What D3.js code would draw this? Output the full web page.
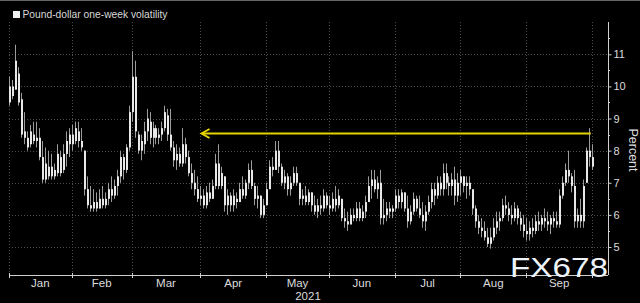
<!DOCTYPE html>
<html>
<head>
<meta charset="utf-8">
<script src="https://cdnjs.cloudflare.com/ajax/libs/d3/7.8.5/d3.min.js"></script>
<style>
  html, body { margin: 0; padding: 0; background: #000; }
  svg { display: block; }
  text { font-family: "Liberation Sans", Arial, sans-serif; }
</style>
</head>
<body>
<div id="chart"></div>
<script>
var svgWidth = 640;
var svgHeight = 303;

var plot = { left: 9, right: 608, top: 22, bottom: 275 };

// trading-day index where each month starts (Jan 1 = 0)
var months = ["Jan", "Feb", "Mar", "Apr", "May", "Jun", "Jul", "Aug", "Sep"];
var monthStarts = [0, 21, 41, 64, 86, 107, 129, 151, 173, 195];
var yTicks = [5, 6, 7, 8, 9, 10, 11];
var yMinorTicks = [5.5, 6.5, 7.5, 8.5, 9.5, 10.5, 11.5];

// one bar per trading day
var highs = [
  10.3, 10.2, 11.3, 10.6, 9.8, 9.2, 8.6, 8.8, 8.9, 8.9, 8.7, 8.3, 8.1, 8.0, 7.9, 7.6, 8.2, 8.0, 8.2, 8.6, 8.7,
  8.8, 8.9, 8.9, 8.7, 8.0, 7.2, 6.9, 6.8, 6.7, 6.8, 6.9, 6.7, 7.0, 7.2, 7.1, 7.4, 8.0, 7.9, 8.2, 9.4,
  11.1, 10.8, 8.6, 8.5, 8.9, 9.3, 9.2, 8.9, 8.8, 8.7, 8.9, 9.4, 9.3, 9.3, 8.3, 8.2, 8.1, 8.7, 8.4, 8.0, 7.6, 7.4, 7.2,
  6.9, 6.8, 6.9, 7.0, 7.1, 7.9, 8.2, 7.5, 7.2, 6.8, 6.7, 6.8, 6.7, 7.0, 7.2, 7.1, 7.6, 7.7, 7.0, 6.9, 6.6, 6.5,
  7.0, 7.7, 7.8, 8.3, 8.3, 7.6, 7.4, 7.3, 7.2, 7.5, 7.5, 6.9, 6.8, 6.9, 6.8, 6.7, 6.6, 6.5, 6.6, 6.8, 6.7,
  6.6, 6.7, 6.9, 6.8, 6.5, 6.2, 6.1, 6.2, 6.2, 6.4, 6.4, 6.3, 6.6, 7.2, 7.4, 7.4, 7.2, 7.4, 6.5, 6.4, 6.4, 6.3,
  6.8, 6.8, 6.8, 6.7, 6.6, 6.3, 6.7, 6.6, 6.6, 6.4, 6.3, 6.6, 7.0, 7.0, 7.2, 7.2, 7.6, 7.6, 7.2, 7.3, 7.5, 7.3,
  7.4, 7.2, 7.2, 7.2, 6.7, 6.3, 6.0, 5.9, 5.8, 5.6, 5.6, 5.9, 6.1, 6.1, 6.5, 6.6, 6.4, 6.3, 6.4, 6.3, 6.1, 6.0,
  5.9, 5.8, 5.9, 6.0, 6.1, 6.0, 6.2, 6.1, 6.0, 6.1, 6.1, 6.8, 7.2, 7.6, 8.0, 7.3, 7.4, 6.2, 6.5, 7.1, 8.1, 8.7, 8.2
];
var lows = [
  9.4, 9.6, 9.9, 9.4, 8.4, 8.2, 8.0, 8.1, 8.2, 8.1, 7.7, 7.0, 7.0, 7.1, 7.1, 7.1, 7.2, 7.2, 7.3, 7.5, 7.8,
  8.0, 8.2, 8.1, 8.0, 6.6, 6.2, 6.1, 6.1, 6.1, 6.2, 6.2, 6.2, 6.3, 6.4, 6.5, 6.6, 7.0, 7.1, 7.3, 8.0,
  8.9, 8.4, 7.9, 7.7, 7.9, 8.3, 8.2, 8.1, 8.2, 8.2, 8.3, 8.6, 8.3, 8.0, 7.5, 7.4, 7.5, 7.5, 7.6, 7.2, 6.8, 6.6, 6.4,
  6.3, 6.2, 6.2, 6.4, 6.5, 6.8, 6.8, 6.8, 6.1, 6.0, 6.1, 6.1, 6.2, 6.4, 6.5, 6.5, 6.8, 6.8, 6.3, 6.2, 5.9, 5.9,
  6.3, 6.8, 7.2, 7.4, 7.3, 6.9, 6.8, 6.6, 6.6, 6.9, 6.9, 6.3, 6.3, 6.3, 6.3, 6.1, 6.0, 5.9, 6.0, 6.1, 6.2,
  6.0, 6.1, 6.1, 6.2, 5.8, 5.6, 5.5, 5.8, 5.8, 5.8, 5.8, 5.8, 5.9, 6.4, 6.5, 6.7, 6.5, 5.7, 5.7, 5.8, 5.9, 5.9,
  6.1, 6.2, 6.2, 6.1, 5.6, 5.7, 6.0, 6.1, 5.9, 5.6, 5.5, 6.0, 6.2, 6.3, 6.5, 6.6, 6.6, 6.8, 6.6, 6.6, 6.3, 6.4,
  6.6, 6.7, 6.5, 6.6, 6.0, 5.6, 5.4, 5.3, 5.2, 5.0, 4.95, 5.2, 5.4, 5.5, 5.8, 6.0, 5.8, 5.7, 5.8, 5.7, 5.5, 5.3,
  5.2, 5.2, 5.3, 5.4, 5.5, 5.5, 5.6, 5.5, 5.4, 5.6, 5.6, 5.6, 6.5, 6.9, 7.0, 6.7, 5.6, 5.6, 5.6, 5.6, 7.0, 7.5, 7.4
];
var opens = [
  9.5, 10.0, 9.9, 10.4, 9.6, 8.6, 8.4, 8.2, 8.5, 8.3, 8.4, 7.8, 7.1, 7.5, 7.2, 7.4, 7.3, 7.8, 7.4, 7.9, 8.2,
  8.5, 8.3, 8.6, 8.3, 8.0, 6.8, 6.3, 6.2, 6.4, 6.2, 6.5, 6.3, 6.5, 6.8, 6.6, 6.9, 7.2, 7.8, 7.4, 8.1,
  9.2, 10.3, 8.5, 8.0, 8.2, 8.6, 8.9, 8.4, 8.7, 8.4, 8.5, 8.7, 9.1, 8.5, 8.1, 7.7, 7.9, 7.6, 8.2, 7.8, 7.3, 7.0, 6.8,
  6.5, 6.6, 6.3, 6.7, 6.5, 6.9, 7.6, 6.9, 7.2, 6.3, 6.6, 6.3, 6.5, 6.4, 6.8, 6.6, 7.0, 7.4, 6.9, 6.5, 6.6, 6.0,
  6.3, 6.8, 7.5, 7.4, 8.0, 7.5, 7.0, 7.2, 6.8, 7.0, 7.3, 7.0, 6.5, 6.6, 6.4, 6.7, 6.3, 6.1, 6.3, 6.2, 6.6,
  6.3, 6.2, 6.5, 6.3, 6.5, 5.9, 5.8, 5.7, 6.0, 5.9, 6.2, 5.9, 6.1, 6.4, 6.9, 7.1, 6.8, 7.0, 5.9, 6.0, 6.2, 6.1,
  6.2, 6.6, 6.4, 6.7, 6.2, 5.8, 6.1, 6.5, 6.2, 6.0, 5.8, 6.1, 6.4, 6.8, 6.6, 7.0, 6.8, 7.3, 7.0, 6.9, 7.1, 6.6,
  7.0, 7.2, 6.9, 7.0, 6.8, 6.2, 5.8, 5.6, 5.5, 5.3, 5.1, 5.3, 5.6, 5.8, 5.9, 6.3, 6.2, 6.0, 5.9, 6.2, 5.9, 5.7,
  5.5, 5.4, 5.6, 5.5, 5.8, 5.7, 5.9, 5.8, 5.7, 5.9, 5.8, 5.7, 6.6, 7.0, 7.4, 7.2, 6.9, 5.8, 6.0, 5.8, 7.0, 8.0, 7.8
];
var closes = [
  10.0, 9.7, 10.8, 9.5, 8.5, 8.4, 8.1, 8.6, 8.3, 8.4, 7.8, 7.1, 7.6, 7.2, 7.5, 7.2, 7.9, 7.3, 7.9, 8.3, 8.5,
  8.2, 8.7, 8.3, 8.1, 6.8, 6.3, 6.2, 6.4, 6.2, 6.5, 6.3, 6.5, 6.8, 6.6, 6.9, 7.2, 7.8, 7.4, 8.1, 9.2,
  10.3, 8.6, 8.0, 8.3, 8.6, 9.0, 8.4, 8.7, 8.4, 8.5, 8.7, 9.2, 8.5, 8.1, 7.7, 7.9, 7.6, 8.2, 7.8, 7.3, 7.0, 6.8, 6.5,
  6.6, 6.3, 6.7, 6.5, 6.9, 7.6, 6.9, 7.3, 6.3, 6.6, 6.3, 6.6, 6.4, 6.8, 6.6, 7.0, 7.4, 6.9, 6.5, 6.6, 6.0, 6.3,
  6.8, 7.5, 7.4, 8.0, 7.5, 7.0, 7.2, 6.8, 7.0, 7.3, 7.0, 6.5, 6.6, 6.4, 6.7, 6.3, 6.1, 6.3, 6.2, 6.6, 6.3,
  6.2, 6.5, 6.3, 6.6, 5.9, 5.8, 5.7, 6.0, 5.9, 6.2, 5.9, 6.1, 6.4, 6.9, 7.1, 6.8, 7.0, 5.9, 6.0, 6.2, 6.1, 6.2,
  6.6, 6.4, 6.7, 6.2, 5.8, 6.1, 6.5, 6.2, 6.0, 5.8, 6.1, 6.4, 6.8, 6.6, 7.0, 6.8, 7.3, 7.0, 6.9, 7.1, 6.6, 7.0,
  7.2, 6.9, 7.0, 6.8, 6.2, 5.8, 5.6, 5.5, 5.3, 5.1, 5.3, 5.6, 5.8, 5.9, 6.3, 6.2, 6.0, 5.9, 6.2, 5.9, 5.7, 5.5,
  5.4, 5.6, 5.5, 5.8, 5.7, 5.9, 5.8, 5.7, 5.9, 5.8, 5.7, 6.6, 7.0, 7.4, 7.2, 6.9, 5.8, 6.0, 5.8, 6.9, 8.0, 7.8, 7.5
];

// yellow reference arrow: level and day-index span
var arrowLevel = 8.56;
var arrowSpan = [64.4, 194.6];

var bars = highs.map((h, i) => ({ i: i, h: h, l: lows[i], o: opens[i], c: closes[i] }));

var svg = d3.select("#chart")
  .append("svg")
  .attr("width", svgWidth)
  .attr("height", svgHeight)
  .style("background", "#000");

var xScale = d3.scaleLinear().domain([0, 195]).range([9, 592]);
var yScale = d3.scaleLinear().domain([5, 11]).range([247, 54.3]);

// top border
svg.append("line")
  .attr("x1", 0).attr("x2", svgWidth)
  .attr("y1", 0.5).attr("y2", 0.5)
  .attr("stroke", "#666");

// grid
var grid = svg.append("g").attr("stroke", "#4d4d4d").attr("stroke-dasharray", "1,2");
grid.selectAll("line.h")
  .data(yTicks)
  .enter()
  .append("line")
  .attr("x1", plot.left).attr("x2", plot.right)
  .attr("y1", d => Math.round(yScale(d)) + 0.5)
  .attr("y2", d => Math.round(yScale(d)) + 0.5);
grid.selectAll("line.v")
  .data(monthStarts)
  .enter()
  .append("line")
  .attr("x1", d => Math.round(xScale(d)) + 0.5)
  .attr("x2", d => Math.round(xScale(d)) + 0.5)
  .attr("y1", plot.top).attr("y2", plot.bottom);

// bars
var barGroup = svg.append("g");
barGroup.selectAll("line")
  .data(bars)
  .enter()
  .append("line")
  .attr("x1", d => Math.round(xScale(d.i)) + 0.5)
  .attr("x2", d => Math.round(xScale(d.i)) + 0.5)
  .attr("y1", d => yScale(d.h))
  .attr("y2", d => yScale(d.l))
  .attr("stroke", "#9c9c9c")
  .attr("stroke-width", 1);
barGroup.selectAll("rect")
  .data(bars)
  .enter()
  .append("rect")
  .attr("x", d => Math.round(xScale(d.i)))
  .attr("width", 2)
  .attr("y", d => yScale(Math.max(d.o, d.c)))
  .attr("height", d => Math.max(1, Math.abs(yScale(d.o) - yScale(d.c))))
  .attr("fill", "#e8e8e8");

// arrow
var ay = Math.round(yScale(arrowLevel)) + 0.5;
var ax0 = xScale(arrowSpan[0]);
var ax1 = xScale(arrowSpan[1]);
svg.append("line")
  .attr("x1", ax0 + 1).attr("x2", ax1)
  .attr("y1", ay).attr("y2", ay)
  .attr("stroke", "#e3d400")
  .attr("stroke-width", 2);
svg.append("path")
  .attr("d", `M${ax0 + 8},${ay - 4.5} L${ax0},${ay} L${ax0 + 8},${ay + 4.5}`)
  .attr("fill", "none")
  .attr("stroke", "#e3d400")
  .attr("stroke-width", 2);

// y axis on the right
svg.append("line")
  .attr("x1", plot.right + 0.5).attr("x2", plot.right + 0.5)
  .attr("y1", plot.top).attr("y2", plot.bottom)
  .attr("stroke", "#d0d0d0");

var yAxis = svg.append("g")
  .attr("transform", `translate(${plot.right + 0.5},0)`)
  .call(d3.axisRight(yScale).tickValues(yTicks).tickSize(3).tickPadding(2).tickFormat(d3.format("d")));
yAxis.select(".domain").remove();
yAxis.selectAll("line").attr("stroke", "#d0d0d0");
yAxis.selectAll("text")
  .attr("fill", "#dcdcdc")
  .style("font-size", "11px")
  .style("font-family", "'Liberation Sans', Arial, sans-serif");

svg.append("g").selectAll("line")
  .data(yMinorTicks)
  .enter()
  .append("line")
  .attr("x1", plot.right).attr("x2", plot.right + 2)
  .attr("y1", d => Math.round(yScale(d)) + 0.5)
  .attr("y2", d => Math.round(yScale(d)) + 0.5)
  .attr("stroke", "#d0d0d0");

svg.append("text")
  .attr("transform", `translate(629, 150) rotate(90)`)
  .attr("text-anchor", "middle")
  .attr("fill", "#dcdcdc")
  .style("font-size", "12.5px")
  .text("Percent");

// x axis
svg.append("line")
  .attr("x1", plot.left).attr("x2", plot.right)
  .attr("y1", plot.bottom + 0.5).attr("y2", plot.bottom + 0.5)
  .attr("stroke", "#d0d0d0");
svg.append("g").selectAll("line")
  .data(monthStarts)
  .enter()
  .append("line")
  .attr("x1", d => Math.round(xScale(d)) + 0.5)
  .attr("x2", d => Math.round(xScale(d)) + 0.5)
  .attr("y1", plot.bottom - 2).attr("y2", plot.bottom + 3)
  .attr("stroke", "#d0d0d0");
svg.append("g").selectAll("text")
  .data(months)
  .enter()
  .append("text")
  .attr("x", (d, i) => xScale((monthStarts[i] + monthStarts[i + 1]) / 2))
  .attr("y", 287)
  .attr("text-anchor", "middle")
  .attr("fill", "#dcdcdc")
  .style("font-size", "11.5px")
  .text(d => d);
svg.append("text")
  .attr("x", 308)
  .attr("y", 300)
  .attr("text-anchor", "middle")
  .attr("fill", "#dcdcdc")
  .style("font-size", "11.5px")
  .text("2021");

// legend
svg.append("rect")
  .attr("x", 13).attr("y", 11)
  .attr("width", 7).attr("height", 7)
  .attr("fill", "#f0f0f0");
svg.append("text")
  .attr("x", 22.5).attr("y", 18)
  .attr("fill", "#d8d8d8")
  .attr("textLength", 145)
  .attr("lengthAdjust", "spacingAndGlyphs")
  .style("font-size", "10px")
  .text("Pound-dollar one-week volatility");

// watermark
svg.append("text")
  .attr("x", 510).attr("y", 277)
  .attr("fill", "#eef3fa")
  .attr("textLength", 98)
  .attr("lengthAdjust", "spacingAndGlyphs")
  .style("font-size", "28px")
  .text("FX678");
</script>
</body>
</html>
